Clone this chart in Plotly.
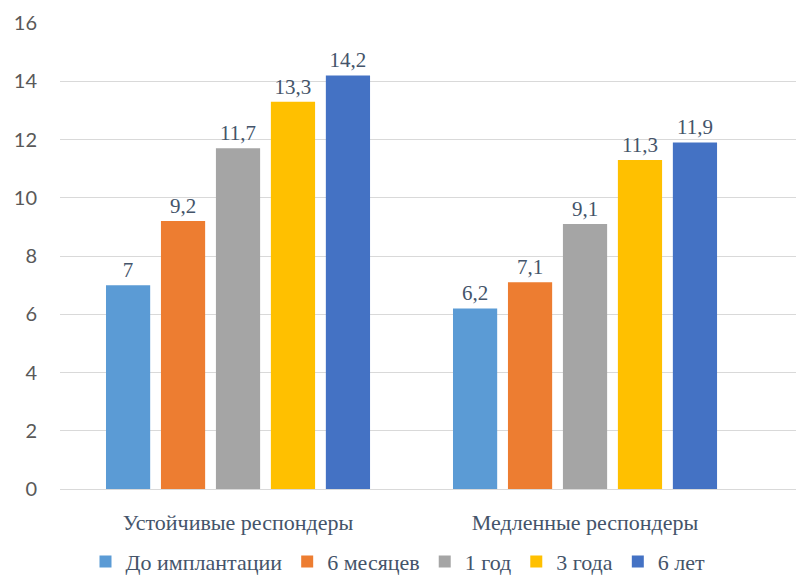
import plotly.graph_objects as go

categories = ["Устойчивые респондеры", "Медленные респондеры"]
series_names = ["До имплантации", "6 месяцев", "1 год", "3 года", "6 лет"]
series_values = [
    [7.0, 6.2],
    [9.2, 7.1],
    [11.7, 9.1],
    [13.3, 11.3],
    [14.2, 11.9],
]
colors = ["#5B9BD5", "#ED7D31", "#A5A5A5", "#FFC000", "#4472C4"]
y_ticks = [0, 2, 4, 6, 8, 10, 12, 14, 16]

label_font = "'Liberation Serif', 'Times New Roman', serif"
label_color = "#44546A"

fig = go.Figure()
for name, vals, col in zip(series_names, series_values, colors):
    fig.add_trace(go.Bar(
        x=categories, y=vals, name=name,
        marker=dict(color=col, line=dict(width=0)),
        text=vals, texttemplate="%{y}", textposition="outside",
        textfont=dict(family=label_font, size=21, color=label_color),
        cliponaxis=False,
    ))

fig.update_layout(
    width=796, height=576,
    margin=dict(l=60, r=0, t=23, b=87),
    plot_bgcolor="white", paper_bgcolor="white",
    barmode="group", bargap=0.208, bargroupgap=0.196,
    separators=", ",
    showlegend=True,
    legend=dict(orientation="h", x=0.5, xanchor="center", xref="container",
                y=0.025, yanchor="middle", yref="container",
                font=dict(family=label_font, size=22, color=label_color),
                itemwidth=30, tracegroupgap=0),
    xaxis=dict(range=[-0.513, 1.608], showgrid=False, showline=False, ticks="",
               ticklabelstandoff=18,
               tickfont=dict(family=label_font, size=22, color=label_color)),
    yaxis=dict(range=[0, 16], tickvals=y_ticks, showgrid=True, gridcolor="#D9D9D9",
               gridwidth=1, zeroline=True, zerolinecolor="#D9D9D9", zerolinewidth=1,
               showline=False, ticks="", ticklabelstandoff=22,
               tickfont=dict(family="Lato, sans-serif", size=20, color="#595959")),
)

fig.write_html("out.html")
